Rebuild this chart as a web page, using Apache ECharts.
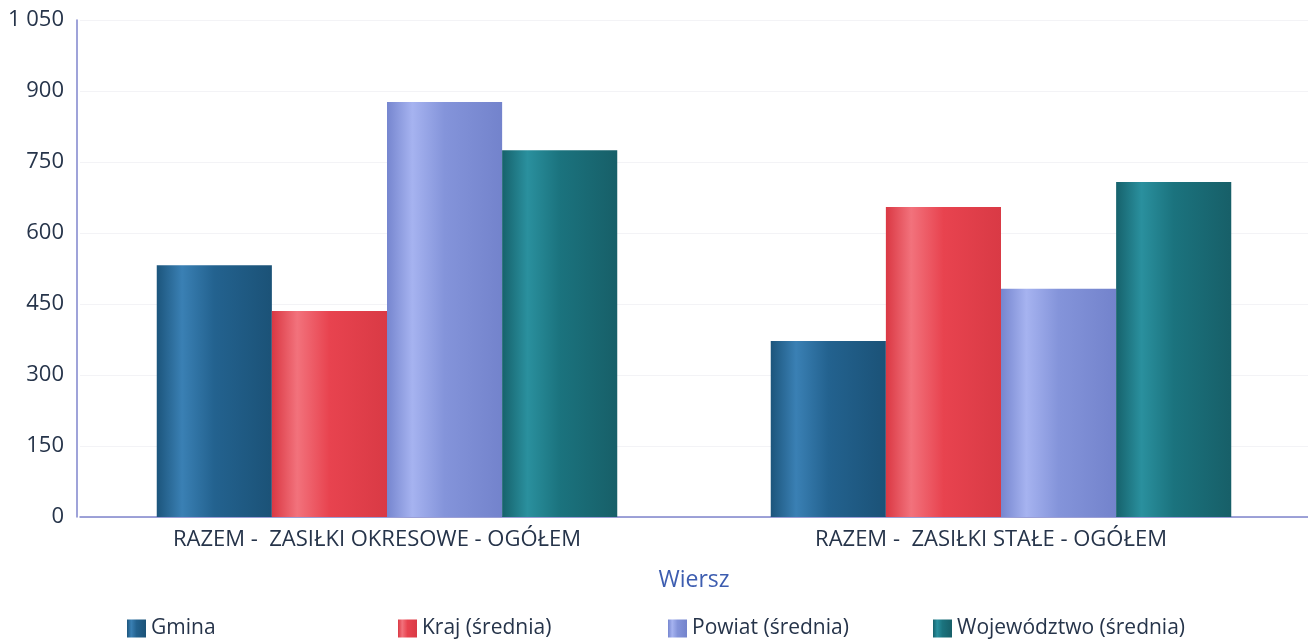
<!DOCTYPE html>
<html><head><meta charset="utf-8">
<script src="https://cdn.jsdelivr.net/npm/echarts@6/dist/echarts.min.js"></script>
<style>html,body{margin:0;padding:0;background:#fff;overflow:hidden}#c{width:1308px;height:643px}</style>
</head><body><div id="c"></div>
<script>
const categories = ['RAZEM -  ZASIŁKI OKRESOWE - OGÓŁEM', 'RAZEM -  ZASIŁKI STAŁE - OGÓŁEM'];
const seriesNames = ['Gmina', 'Kraj (średnia)', 'Powiat (średnia)', 'Województwo (średnia)'];
const gmina = [532, 372];
const kraj = [435, 655];
const powiat = [877, 482];
const wojewodztwo = [775, 708];
const yTicks = [0, 150, 300, 450, 600, 750, 900, 1050];

const palette = [
  ['#1c557c', '#3a80b4', '#23628f', '#1b5277'],
  ['#da3843', '#f2727c', '#e8434f', '#d93a45'],
  ['#7686cf', '#a6b3f0', '#8494da', '#7383cc'],
  ['#16626c', '#2a909e', '#1b737e', '#175f68']
];
function grad(p){
  return new echarts.graphic.LinearGradient(0,0,1,0,[
    {offset:0,color:p[0]},{offset:0.22,color:p[1]},{offset:0.5,color:p[2]},{offset:1,color:p[3]}
  ]);
}
const values = [gmina, kraj, powiat, wojewodztwo];
const font = '"Open Sans", "Noto Sans", sans-serif';
const legendLefts = [127, 398, 668, 933];

const chart = echarts.init(document.getElementById('c'));
chart.setOption({
  animation:false,
  textStyle:{fontFamily:font},
  grid:{left:80, right:0, top:20, bottom:126},
  legend: seriesNames.map((n,i)=>({
    data:[n], left:legendLefts[i], top:618, padding:0, icon:'rect', itemWidth:19, itemHeight:18, itemGap:6,
    textStyle:{fontFamily:font, fontSize:21, color:'#26344a'}
  })),
  xAxis:{
    type:'category', data:categories,
    name:'Wiersz', nameLocation:'middle', nameGap:52,
    nameTextStyle:{fontFamily:font, fontSize:23, color:'#3d5db0'},
    axisLine:{lineStyle:{color:'#7f84cc', width:1.5}},
    axisTick:{show:false},
    axisLabel:{fontFamily:font, fontSize:22, color:'#26344a', margin:12, padding:[0,20,0,0]}
  },
  yAxis:{
    type:'value', min:yTicks[0], max:yTicks[yTicks.length-1], interval:150, offset:3,
    axisLine:{show:true, lineStyle:{color:'#7f84cc', width:1.5}},
    axisTick:{show:false},
    splitLine:{lineStyle:{color:'#f3f3f6'}},
    axisLabel:{fontFamily:font, fontSize:22, color:'#26344a', margin:13,
      formatter:v=>String(v).replace(/\B(?=(\d{3})+(?!\d))/g,' ')}
  },
  series: seriesNames.map((n,i)=>({
    name:n, type:'bar', data:values[i], barGap:'0%', barCategoryGap:'25%',
    itemStyle:{color:grad(palette[i])}
  }))
});
</script></body></html>
